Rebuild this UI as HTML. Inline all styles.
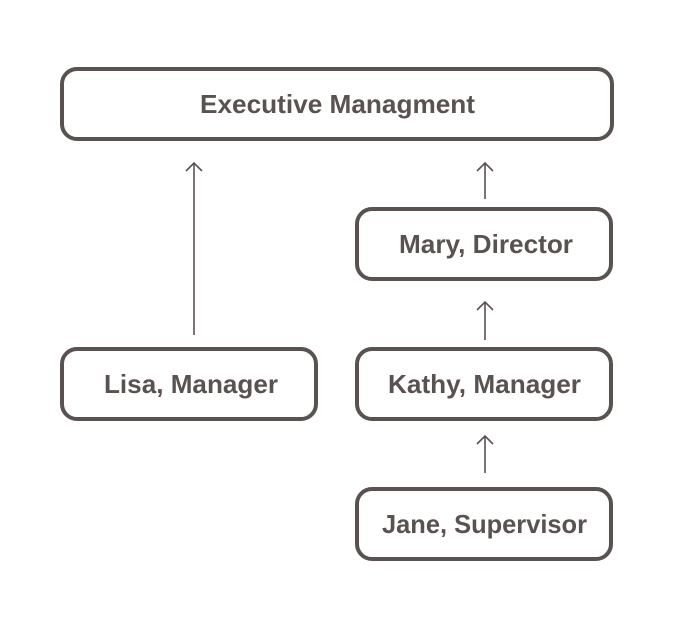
<!DOCTYPE html>
<html><head><meta charset="utf-8"><style>
html,body{margin:0;padding:0;background:#fff;}
svg{display:block;}
text{font-family:"Liberation Sans",sans-serif;font-size:26px;font-weight:bold;fill:#5a5250;text-anchor:middle;dominant-baseline:central;}
</style></head><body>
<svg width="700" height="623" viewBox="0 0 700 623">
<g fill="none" stroke="#5a5250" stroke-width="4">
<rect x="62" y="69" width="550" height="70" rx="15"/>
<rect x="357" y="209" width="254" height="70" rx="15"/>
<rect x="62" y="349" width="254" height="70" rx="15"/>
<rect x="357" y="349" width="254" height="70" rx="15"/>
<rect x="357" y="489" width="254" height="70" rx="15"/>
</g>
<g fill="none" stroke="#5a5250" stroke-width="1.6">
<path d="M194 335V163M186 171L194 163L202 171"/>
<path d="M485 199V163M477 171L485 163L493 171"/>
<path d="M485 340V302M477 310L485 302L493 310"/>
<path d="M485 473V436M477 444L485 436L493 444"/>
</g>
<text x="337.5" y="104" textLength="275" lengthAdjust="spacingAndGlyphs">Executive Managment</text>
<text x="486" y="244" textLength="174" lengthAdjust="spacingAndGlyphs">Mary, Director</text>
<text x="191" y="384" textLength="174" lengthAdjust="spacingAndGlyphs">Lisa, Manager</text>
<text x="484.5" y="384" textLength="193" lengthAdjust="spacingAndGlyphs">Kathy, Manager</text>
<text x="484.5" y="524" textLength="205" lengthAdjust="spacingAndGlyphs">Jane, Supervisor</text>
</svg>
</body></html>
